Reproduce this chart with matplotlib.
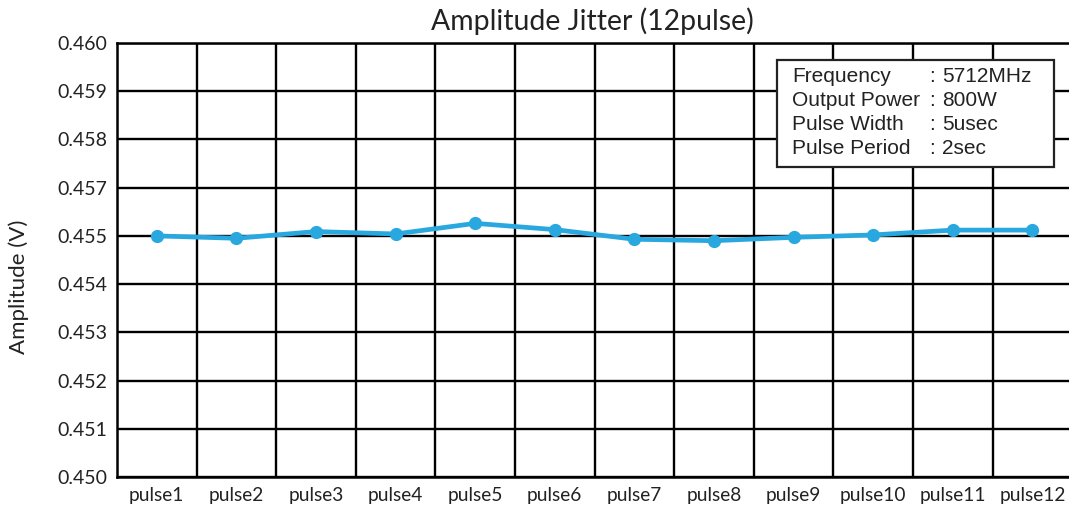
import numpy as np
import matplotlib
matplotlib.use("Agg")
import matplotlib.pyplot as plt

# data
pulses = ["pulse%d" % i for i in range(1, 13)]
amplitude = [0.45500, 0.45495, 0.45509, 0.45504, 0.45526, 0.45513,
             0.45493, 0.45490, 0.45497, 0.45502, 0.45512, 0.45512]
# the original axis skips 0.456, keep its labels as they are
ytick_vals = [0.450, 0.451, 0.452, 0.453, 0.454, 0.455, 0.456, 0.457, 0.458, 0.459]
ytick_labels = ["0.450", "0.451", "0.452", "0.453", "0.454",
                "0.455", "0.457", "0.458", "0.459", "0.460"]
info_keys = ["Frequency", "Output Power", "Pulse Width", "Pulse Period"]
info_vals = ["5712MHz", "800W", "5usec", "2sec"]

W, H = 1069, 508
fig = plt.figure(figsize=(W / 100, H / 100), dpi=100)
ax = fig.add_axes([117 / W, 1 - 477 / H, 1 - 117 / W, (477 - 43) / H])

x = np.arange(len(pulses))
ax.plot(x, amplitude, color="#29a8e0", lw=3.4, marker="o", ms=8.5, zorder=3)

ax.set_xlim(-0.5, 11.46)
ax.set_ylim(ytick_vals[0], ytick_vals[-1])
ax.set_yticks(ytick_vals)
ax.set_yticklabels(ytick_labels, fontsize=14, family="Lato", color="#222222")
ax.set_xticks(x)
ax.set_xticklabels(pulses, fontsize=13.8, family="Lato", color="#222222")
ax.tick_params(length=0, pad=7)

# cell grid: horizontal at y ticks, vertical between categories
for v in ytick_vals:
    ax.axhline(v, color="black", lw=1.7, zorder=1)
for b in np.arange(0.5, 11.5, 1.0):
    ax.axvline(b, color="black", lw=1.7, zorder=1)
for s in ["top", "left", "bottom"]:
    ax.spines[s].set_linewidth(1.8)
ax.spines["right"].set_visible(False)

fig.text(19 / W, 1 - 287 / H, "Amplitude (V)", rotation=90, ha="center",
         va="center", fontsize=16, family="Lato", color="#222222")
fig.text(592 / W, 1 - 21 / H, "Amplitude Jitter (12pulse)",
         ha="center", va="center", fontsize=20.4, family="Lato", color="#222222")

# info box
bx0, by0, bx1, by1 = 777, 60, 1054, 167
box = plt.Rectangle((bx0 / W, 1 - by1 / H), (bx1 - bx0) / W, (by1 - by0) / H,
                    transform=fig.transFigure, facecolor="white",
                    edgecolor="#222222", lw=1.6, zorder=5)
fig.patches.append(box)
for i, (k, v) in enumerate(zip(info_keys, info_vals)):
    yy = 1 - (77 + 24 * i) / H
    fig.text(792 / W, yy, k, fontsize=15, family="Liberation Sans",
             va="center", color="#222222", zorder=6)
    fig.text(929 / W, yy, ":", fontsize=15, family="Liberation Sans",
             va="center", color="#222222", zorder=6)
    fig.text(942 / W, yy, v, fontsize=15, family="Liberation Sans",
             va="center", color="#222222", zorder=6)

fig.savefig("out.png", dpi=100)
